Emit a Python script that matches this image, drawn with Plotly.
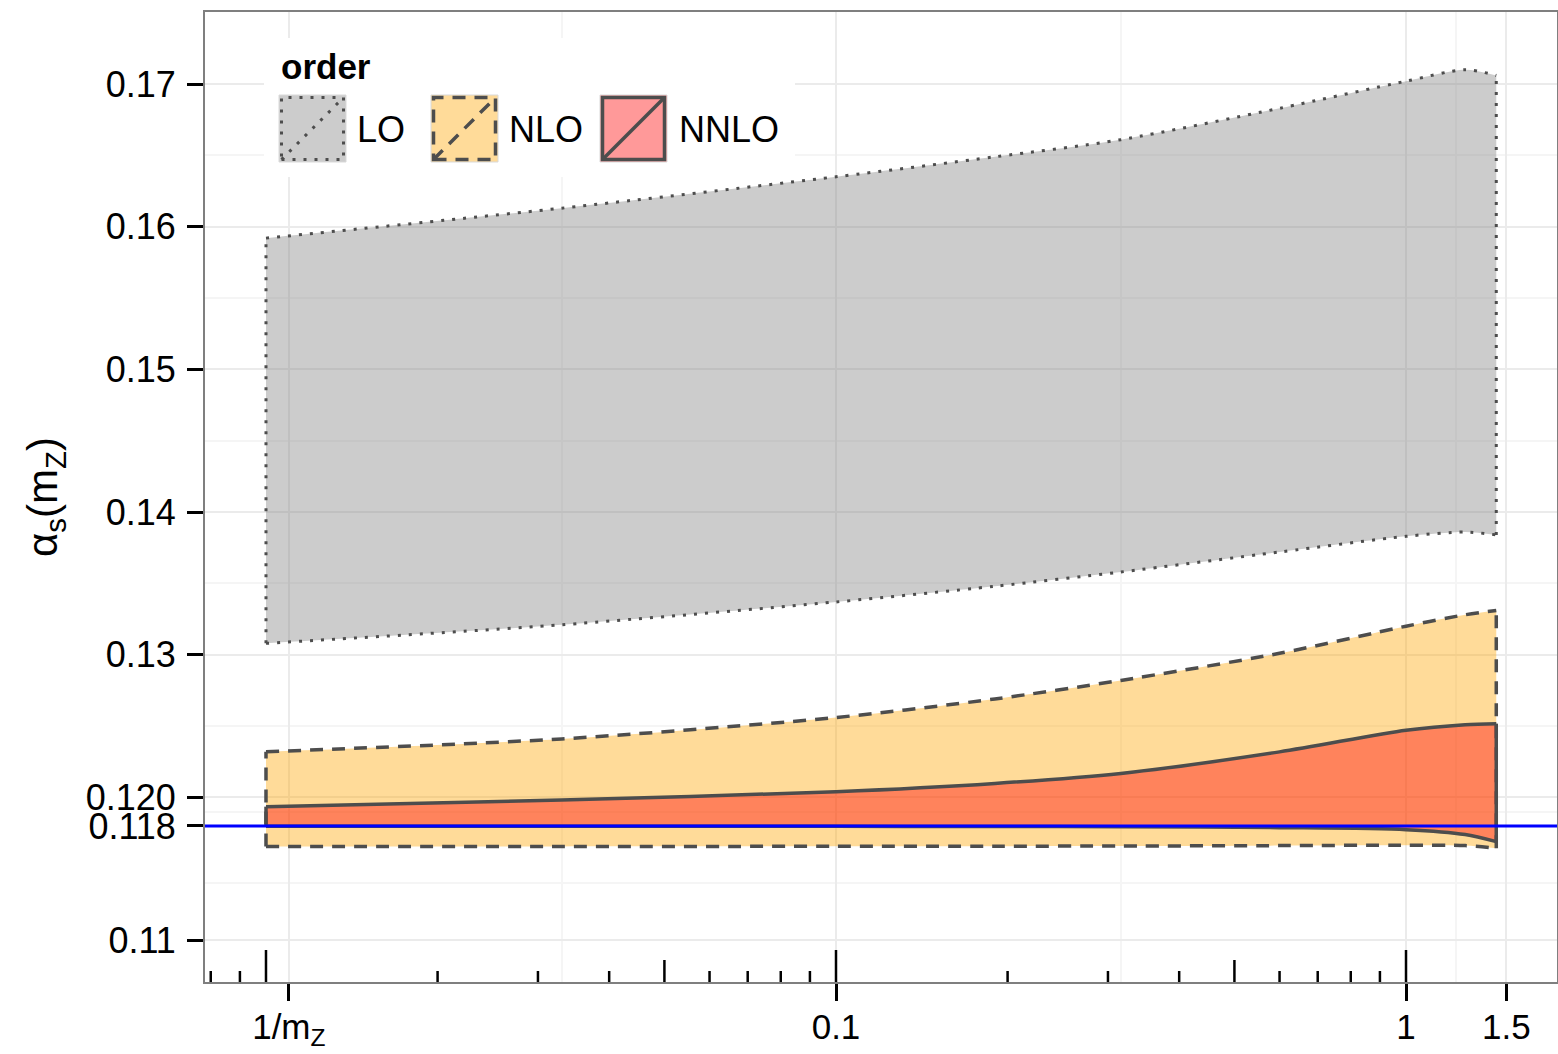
import plotly.graph_objects as go

# ---------------- data ----------------
MZ = 91.1876
x_scale = [0.01, 0.033, 0.1, 0.19, 0.316, 0.6, 1.0, 1.27, 1.44]

lo_upper = [0.1592, 0.1613, 0.1635, 0.1649, 0.1661, 0.1683, 0.1702, 0.1710, 0.1706]
lo_lower = [0.1308, 0.1321, 0.1337, 0.1348, 0.1358, 0.1372, 0.1383, 0.1386, 0.1384]
nlo_upper = [0.1232, 0.1241, 0.1256, 0.1269, 0.1282, 0.1301, 0.1320, 0.1328, 0.1331]
nlo_lower = [0.11655, 0.11656, 0.11657, 0.11658, 0.11659, 0.11662, 0.11665, 0.11662, 0.11643]
nnlo_upper = [0.11935, 0.11981, 0.12040, 0.12098, 0.12168, 0.12319, 0.12471, 0.12510, 0.12517]
nnlo_lower = [0.11797, 0.11797, 0.11797, 0.11796, 0.11794, 0.11788, 0.11774, 0.11740, 0.11690]
alpha_ref = 0.118

orders = ["LO", "NLO", "NNLO"]

y_tickvals = [0.11, 0.118, 0.12, 0.13, 0.14, 0.15, 0.16, 0.17]
y_ticktext = ["0.11", "0.118", "0.120", "0.13", "0.14", "0.15", "0.16", "0.17"]
y_minor = [0.114, 0.119, 0.125, 0.135, 0.145, 0.155, 0.165]

x_tickvals = [1 / MZ, 0.1, 1.0, 1.5]
x_ticktext = ["1/m<sub>Z</sub>", "0.1", "1", "1.5"]
x_minor = [0.0331, 0.316, 1.2247]

logticks_long = [0.01, 0.1, 1.0]
logticks_mid = [0.05, 0.5]
logticks_short = [0.008, 0.009, 0.02, 0.03, 0.04, 0.06, 0.07, 0.08, 0.09,
                  0.2, 0.3, 0.4, 0.6, 0.7, 0.8, 0.9]

# ---------------- styles ----------------
FONT = "Liberation Sans, Arial, Helvetica, sans-serif"
LINE_COL = "#4D4D4D"
styles = {
    "LO": dict(fill="rgba(128,128,128,0.4)", key="#CCCCCC", dash="3px,8px", width=3),
    "NLO": dict(fill="rgba(255,165,0,0.4)", key="#FFDB99", dash="13px,9px", width=3.5),
    "NNLO": dict(fill="rgba(255,0,0,0.4)", key="#FF9999", dash="solid", width=3.5),
}
bands = {
    "LO": (lo_lower, lo_upper),
    "NLO": (nlo_lower, nlo_upper),
    "NNLO": (nnlo_lower, nnlo_upper),
}

fig = go.Figure()
for name in orders:
    lower, upper = bands[name]
    st = styles[name]
    line = dict(color=LINE_COL, width=st["width"], dash=st["dash"], shape="spline", smoothing=0.8)
    fig.add_trace(go.Scatter(x=x_scale, y=lower, mode="lines", line=line,
                             name=name, legendgroup=name, showlegend=False, hoverinfo="skip"))
    fig.add_trace(go.Scatter(x=x_scale, y=upper, mode="lines", line=line, fill="tonexty",
                             fillcolor=st["fill"], name=name, legendgroup=name,
                             showlegend=False))
    fig.add_trace(go.Scatter(x=[x_scale[0], x_scale[0], None, x_scale[-1], x_scale[-1]],
                             y=[lower[0], upper[0], None, lower[-1], upper[-1]],
                             mode="lines",
                             line=dict(color=LINE_COL, width=st["width"], dash=st["dash"]),
                             showlegend=False, hoverinfo="skip"))

# ---------------- layout geometry (pixels) ----------------
W, H = 1558, 1054
L, R, T, B = 205, 1557, 12, 982


def px(xp):
    return (xp - L) / (R - L)


def py(yp):
    return (B - yp) / (B - T)


shapes = []
# reference line alpha_s = 0.118
shapes.append(dict(type="line", xref="paper", yref="y", x0=0, x1=1, y0=alpha_ref, y1=alpha_ref,
                   line=dict(color="#0000FF", width=3), layer="above"))
# log ticks inside the panel bottom
for vals, ln in ((logticks_long, 32), (logticks_mid, 22), (logticks_short, 11)):
    for v in vals:
        shapes.append(dict(type="line", xref="x", yref="y domain", ysizemode="pixel", yanchor=0,
                           x0=v, x1=v, y0=0, y1=ln, line=dict(color="black", width=2.5),
                           layer="above"))

# manual legend
shapes.append(dict(type="rect", xref="paper", yref="paper", x0=px(264), x1=px(795),
                   y0=py(177), y1=py(38), fillcolor="white", line=dict(width=0), layer="above"))
key_left = {"LO": 280, "NLO": 432, "NNLO": 601}
text_left = {"LO": 357, "NLO": 509, "NNLO": 679}
annotations = []
for name in orders:
    st = styles[name]
    kx0 = key_left[name]
    kx1 = kx0 + 65
    ky0, ky1 = 96, 161
    shapes.append(dict(type="rect", xref="paper", yref="paper", x0=px(kx0 - 1), x1=px(kx1 + 1),
                       y0=py(ky1 + 1), y1=py(ky0 - 1), fillcolor=st["key"],
                       line=dict(color="#D9D9D9", width=1), layer="above"))
    shapes.append(dict(type="rect", xref="paper", yref="paper", x0=px(kx0 + 1.5), x1=px(kx1 - 1.5),
                       y0=py(ky1 - 1.5), y1=py(ky0 + 1.5), fillcolor="rgba(0,0,0,0)",
                       line=dict(color=LINE_COL, width=st["width"], dash=st["dash"]), layer="above"))
    shapes.append(dict(type="line", xref="paper", yref="paper", x0=px(kx0 + 1.5), x1=px(kx1 - 1.5),
                       y0=py(ky1 - 1.5), y1=py(ky0 + 1.5),
                       line=dict(color=LINE_COL, width=st["width"], dash=st["dash"]), layer="above"))
    annotations.append(dict(xref="paper", yref="paper", x=px(text_left[name] - 2), y=py(129),
                            xanchor="left", yanchor="middle", text=name, showarrow=False,
                            font=dict(family=FONT, size=36, color="black")))
annotations.append(dict(xref="paper", yref="paper", x=px(279), y=py(66), xanchor="left",
                        yanchor="middle", text="<b>order</b>", showarrow=False,
                        font=dict(family=FONT, size=35, color="black")))
# y-axis title
annotations.append(dict(xref="paper", yref="paper", x=px(45), y=py(497), xanchor="center",
                        yanchor="middle", text="α<sub>s</sub>(m<sub>Z</sub>)", textangle=-90,
                        showarrow=False, font=dict(family=FONT, size=42, color="black")))

fig.update_layout(
    width=W, height=H,
    margin=dict(l=L, r=W - R, t=T, b=H - B, autoexpand=False),
    paper_bgcolor="white", plot_bgcolor="white",
    font=dict(family=FONT, size=36, color="black"),
    showlegend=False,
    shapes=shapes,
    annotations=annotations,
    xaxis=dict(
        type="log", range=[-2.107, 0.2649],
        tickmode="array", tickvals=x_tickvals, ticktext=x_ticktext,
        ticks="outside", ticklen=17, tickwidth=3, tickcolor="black",
        tickfont=dict(family=FONT, size=35, color="black"),
        ticklabelstandoff=-4,
        showgrid=True, gridcolor="#EBEBEB", gridwidth=2,
        minor=dict(tickmode="array", tickvals=x_minor, showgrid=True,
                   gridcolor="#F5F5F5", gridwidth=1.5, ticks=""),
        showline=True, linecolor="#7F7F7F", linewidth=2, mirror=True,
        zeroline=False, automargin=False, fixedrange=True,
    ),
    yaxis=dict(
        range=[0.10706, 0.17505],
        tickmode="array", tickvals=y_tickvals, ticktext=y_ticktext,
        ticks="outside", ticklen=16, tickwidth=3, tickcolor="black",
        tickfont=dict(family=FONT, size=36, color="black"),
        ticklabelstandoff=4,
        showgrid=True, gridcolor="#EBEBEB", gridwidth=2,
        minor=dict(tickmode="array", tickvals=y_minor, showgrid=True,
                   gridcolor="#F5F5F5", gridwidth=1.5, ticks=""),
        showline=True, linecolor="#7F7F7F", linewidth=2, mirror=True,
        zeroline=False, automargin=False, fixedrange=True,
    ),
)

fig.write_html("out.html")
